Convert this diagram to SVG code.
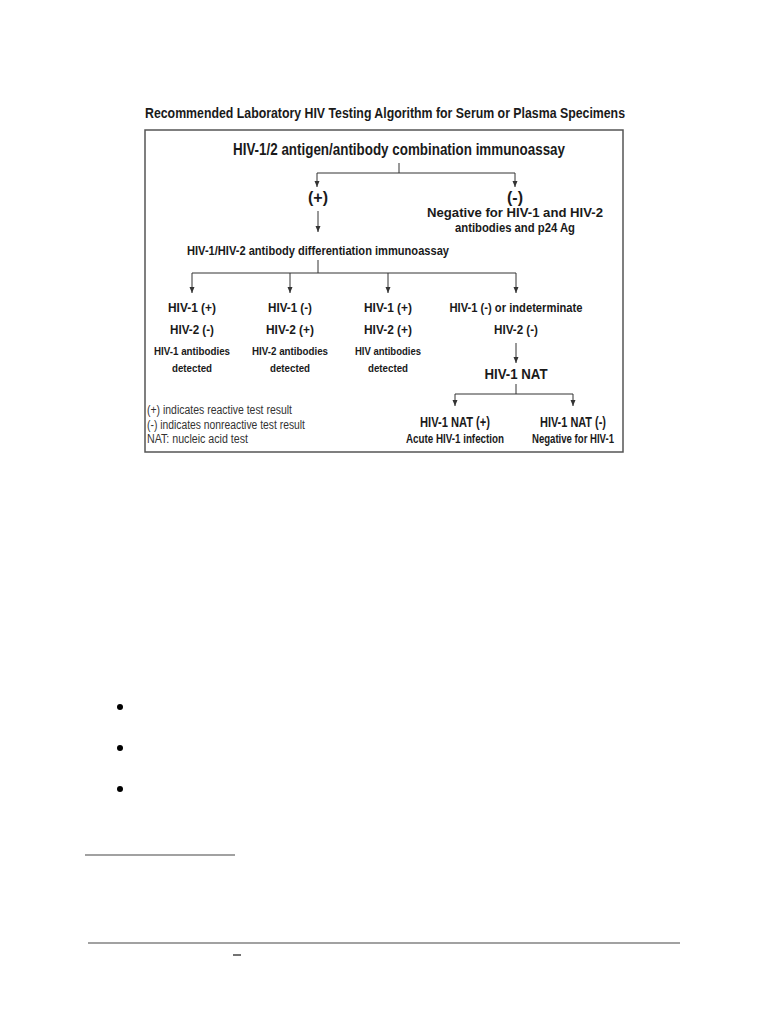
<svg xmlns="http://www.w3.org/2000/svg" width="768" height="1024" viewBox="0 0 768 1024">
<style>
text{font-family:"Liberation Sans",Arial,sans-serif;fill:#1a1a1a}
.b{font-weight:bold}
.c{text-anchor:middle}
.leg{font-size:12px;fill:#333}
.ln{stroke:#333;stroke-width:1;fill:none}
.la{stroke:#333;stroke-width:1;fill:none;marker-end:url(#ah)}
</style>
<defs>
<marker id="ah" viewBox="0 0 6 6" refX="6" refY="3" markerWidth="6" markerHeight="6" markerUnits="userSpaceOnUse" orient="auto">
<path d="M0,0.5 L6,3 L0,5.5 Z" fill="#333"/>
</marker>
</defs>
<rect width="768" height="1024" fill="#fff"/>
<text id="title" class="b" x="145" y="118" font-size="14.5" textLength="480" lengthAdjust="spacingAndGlyphs">Recommended Laboratory HIV Testing Algorithm for Serum or Plasma Specimens</text>
<rect x="145" y="130" width="478" height="322" fill="none" stroke="#555" stroke-width="1.5"/>
<g id="connectors">
<path class="ln" d="M399,163 V173 M317,173 H515"/>
<path class="la" d="M317,173 V187"/>
<path class="la" d="M515,173 V187"/>
<path class="la" d="M318,211 V232"/>
<path class="ln" d="M318,260 V273 M192,273 H516"/>
<path class="la" d="M192,273 V293"/>
<path class="la" d="M290,273 V293"/>
<path class="la" d="M388,273 V293"/>
<path class="la" d="M516,273 V293"/>
<path class="la" d="M516,343 V363"/>
<path class="ln" d="M516,384 V394 M455,394 H573"/>
<path class="la" d="M455,394 V406"/>
<path class="la" d="M573,394 V406"/>
</g>
<g id="combo"><text class="b c" x="399" y="155" font-size="17" textLength="332" lengthAdjust="spacingAndGlyphs">HIV-1/2 antigen/antibody combination immunoassay</text></g>
<g id="pos"><text class="b c" x="318" y="203" font-size="16">(+)</text></g>
<g id="neg">
<text class="b c" x="515" y="203" font-size="16">(-)</text>
<text class="b c" x="515" y="217" font-size="12.5" textLength="176" lengthAdjust="spacingAndGlyphs">Negative for HIV-1 and HIV-2</text>
<text class="b c" x="515" y="232" font-size="12.5" textLength="120" lengthAdjust="spacingAndGlyphs">antibodies and p24 Ag</text>
</g>
<g id="diff"><text class="b c" x="318" y="255" font-size="13.5" textLength="262" lengthAdjust="spacingAndGlyphs">HIV-1/HIV-2 antibody differentiation immunoassay</text></g>
<g id="r1">
<text class="b c" x="192" y="312" font-size="13.5" textLength="48" lengthAdjust="spacingAndGlyphs">HIV-1 (+)</text>
<text class="b c" x="192" y="334" font-size="13.5" textLength="44" lengthAdjust="spacingAndGlyphs">HIV-2 (-)</text>
<text class="b c" x="192" y="355" font-size="11.5" textLength="76" lengthAdjust="spacingAndGlyphs">HIV-1 antibodies</text>
<text class="b c" x="192" y="372" font-size="11.5" textLength="40" lengthAdjust="spacingAndGlyphs">detected</text>
</g>
<g id="r2">
<text class="b c" x="290" y="312" font-size="13.5" textLength="44" lengthAdjust="spacingAndGlyphs">HIV-1 (-)</text>
<text class="b c" x="290" y="334" font-size="13.5" textLength="48" lengthAdjust="spacingAndGlyphs">HIV-2 (+)</text>
<text class="b c" x="290" y="355" font-size="11.5" textLength="76" lengthAdjust="spacingAndGlyphs">HIV-2 antibodies</text>
<text class="b c" x="290" y="372" font-size="11.5" textLength="40" lengthAdjust="spacingAndGlyphs">detected</text>
</g>
<g id="r3">
<text class="b c" x="388" y="312" font-size="13.5" textLength="48" lengthAdjust="spacingAndGlyphs">HIV-1 (+)</text>
<text class="b c" x="388" y="334" font-size="13.5" textLength="48" lengthAdjust="spacingAndGlyphs">HIV-2 (+)</text>
<text class="b c" x="388" y="355" font-size="11.5" textLength="66" lengthAdjust="spacingAndGlyphs">HIV antibodies</text>
<text class="b c" x="388" y="372" font-size="11.5" textLength="40" lengthAdjust="spacingAndGlyphs">detected</text>
</g>
<g id="r4">
<text class="b c" x="516" y="312" font-size="13.5" textLength="133" lengthAdjust="spacingAndGlyphs">HIV-1 (-) or indeterminate</text>
<text class="b c" x="516" y="334" font-size="13.5" textLength="44" lengthAdjust="spacingAndGlyphs">HIV-2 (-)</text>
</g>
<g id="nat"><text class="b c" x="516" y="379" font-size="14.5" textLength="63" lengthAdjust="spacingAndGlyphs">HIV-1 NAT</text></g>
<g id="natpos">
<text class="b c" x="455" y="427" font-size="14" textLength="70" lengthAdjust="spacingAndGlyphs">HIV-1 NAT (+)</text>
<text class="b c" x="455" y="443" font-size="12" textLength="98" lengthAdjust="spacingAndGlyphs">Acute HIV-1 infection</text>
</g>
<g id="natneg">
<text class="b c" x="573" y="427" font-size="14" textLength="66" lengthAdjust="spacingAndGlyphs">HIV-1 NAT (-)</text>
<text class="b c" x="573" y="443" font-size="12" textLength="82" lengthAdjust="spacingAndGlyphs">Negative for HIV-1</text>
</g>
<g id="legend">
<text class="leg" x="147" y="414" textLength="145" lengthAdjust="spacingAndGlyphs">(+) indicates reactive test result</text>
<text class="leg" x="147" y="429" textLength="158" lengthAdjust="spacingAndGlyphs">(-) indicates nonreactive test result</text>
<text class="leg" x="147" y="443" textLength="101" lengthAdjust="spacingAndGlyphs">NAT: nucleic acid test</text>
</g>
<g id="page">
<circle cx="120" cy="707" r="3" fill="#000"/>
<circle cx="120" cy="748" r="3" fill="#000"/>
<circle cx="120" cy="789" r="3" fill="#000"/>
<line x1="85" y1="855" x2="235" y2="855" stroke="#444" stroke-width="1.2"/>
<line x1="88" y1="943" x2="680" y2="943" stroke="#444" stroke-width="1.2"/>
<line x1="233" y1="955" x2="241" y2="955" stroke="#444" stroke-width="1.5"/>
</g>
</svg>
